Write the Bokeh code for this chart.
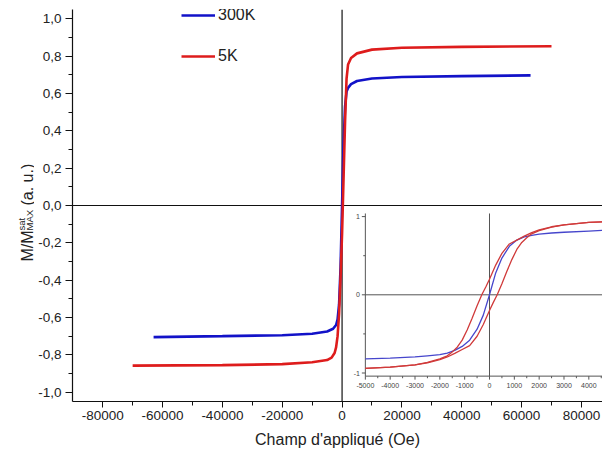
import math
from bokeh.plotting import figure
from bokeh.layouts import row
from bokeh.models import Range1d, FixedTicker, Legend, LegendItem, Span
from bokeh.core.properties import value
from bokeh.embed import file_html
from bokeh.resources import INLINE

# ---------------- data ----------------
SERIES_LABELS = ["300K", "5K"]

H_300K_MAIN = [-63000, -40000, -20000, -10000, -5000, -3000, -2000, -1500, -1000, -500, 0,
               500, 1000, 1500, 2000, 3000, 5000, 10000, 20000, 40000, 63000]
M_300K_MAIN = [-0.705, -0.70, -0.695, -0.687, -0.675, -0.66, -0.64, -0.61, -0.53, -0.33, 0.0,
               0.33, 0.53, 0.61, 0.63, 0.65, 0.667, 0.68, 0.688, 0.693, 0.697]

H_5K_MAIN = [-70000, -40000, -20000, -10000, -5000, -3500, -2500, -2000, -1500, -1000, -500, 0,
             500, 1000, 1500, 2000, 3000, 5000, 10000, 20000, 40000, 70000]
M_5K_MAIN = [-0.858, -0.855, -0.85, -0.84, -0.828, -0.815, -0.79, -0.76, -0.70, -0.58, -0.38, -0.15,
             0.15, 0.45, 0.68, 0.755, 0.79, 0.815, 0.835, 0.845, 0.85, 0.853]

H_300K_INSET = [-5000, -4000, -3000, -2500, -2000, -1700, -1400, -1100, -800, -500, -250, 0,
                250, 500, 800, 1100, 1400, 1700, 2000, 2500, 3000, 4000, 5000]
M_300K_INSET = [-0.82, -0.81, -0.795, -0.78, -0.765, -0.745, -0.71, -0.66, -0.58, -0.44, -0.26, 0.0,
                0.28, 0.47, 0.62, 0.70, 0.74, 0.76, 0.775, 0.79, 0.80, 0.815, 0.83]

# 5K loop: ascending branch (field increasing)
H_5K_INSET_UP = [-5000, -4000, -3000, -2500, -2000, -1700, -1400, -1100, -800, -500, -250, 0,
                 150, 310, 500, 700, 900, 1100, 1300, 1500, 1700, 2000, 2500, 3000, 4000, 5000]
M_5K_INSET_UP = [-0.94, -0.925, -0.895, -0.87, -0.83, -0.795, -0.75, -0.70, -0.65, -0.53, -0.38, -0.2,
                 -0.10, 0.0, 0.14, 0.30, 0.45, 0.58, 0.67, 0.73, 0.78, 0.82, 0.865, 0.895, 0.925, 0.94]
# 5K loop: descending branch (field decreasing)
H_5K_INSET_DOWN = [5000, 4000, 3000, 2500, 2000, 1700, 1400, 1100, 800, 500, 250, 0,
                   -150, -310, -500, -700, -900, -1100, -1300, -1500, -1700, -2000, -2500, -3000,
                   -4000, -5000]
M_5K_INSET_DOWN = [0.94, 0.925, 0.895, 0.87, 0.83, 0.795, 0.75, 0.70, 0.65, 0.53, 0.38, 0.2,
                   0.10, 0.0, -0.14, -0.30, -0.45, -0.58, -0.67, -0.73, -0.78, -0.82, -0.865, -0.895,
                   -0.925, -0.94]

X_TICKS = [-80000, -60000, -40000, -20000, 0, 20000, 40000, 60000, 80000]
X_TICK_LABELS = ["-80000", "-60000", "-40000", "-20000", "0", "20000", "40000", "60000", "80000"]
X_MINOR_TICKS = [-70000, -50000, -30000, -10000, 10000, 30000, 50000, 70000]

Y_TICKS = [-1.0, -0.8, -0.6, -0.4, -0.2, 0.0, 0.2, 0.4, 0.6, 0.8, 1.0]
Y_TICK_LABELS = ["-1,0", "-0,8", "-0,6", "-0,4", "-0,2", "0,0", "0,2", "0,4", "0,6", "0,8", "1,0"]
Y_MINOR_TICKS = [-0.9, -0.7, -0.5, -0.3, -0.1, 0.1, 0.3, 0.5, 0.7, 0.9]

INSET_X_TICKS = [-5000, -4000, -3000, -2000, -1000, 0, 1000, 2000, 3000, 4000, 5000]
INSET_X_TICK_LABELS = ["-5000", "-4000", "-3000", "-2000", "-1000", "0", "1000", "2000",
                       "3000", "4000", "5000"]
INSET_X_MINOR_TICKS = [-4500, -3500, -2500, -1500, -500, 500, 1500, 2500, 3500, 4500]
INSET_Y_TICKS = [-1, 0, 1]
INSET_Y_TICK_LABELS = ["-1", "0", "1"]
INSET_Y_MINOR_TICKS = [-0.5, 0.5]

X_LABEL = "Champ d'appliqué (Oe)"
Y_LABEL_MAIN = ["M/M", "(a. u.)"]
Y_LABEL_SUP = "sat"
Y_LABEL_SUB = "MAX"

# ---------------- layout constants ----------------
FONT = "Liberation Sans"
BLUE = "#1212c8"
RED = "#de1c1c"
IBLUE = "#4646cc"
IRED = "#d03a3a"
AX = "#111111"
IAX = "#555555"
TXT = "#222222"

W, H = 602, 451
LW = 34                            # width of the y-label strip
FL, FR, FT, FB = 72, 602, 9, 401   # main frame edges (picture pixels)
X0 = -90100
X1 = X0 + (FR - FL) / 0.0029919
Y0, Y1 = -1.05, 1.05
I0PX, IPX = 489, 0.02483           # inset H=0 position and px per Oe
I0PY, IPY = 294.3, 78.2            # inset M=0 position and px per unit
IX0, IX1 = (FL - I0PX) / IPX, (FR - I0PX) / IPX
IY0, IY1 = (I0PY - FB) / IPY, (I0PY - FT) / IPY

# ---------------- y-label strip (its frame is aligned with the main frame) ----------------
lab = figure(width=LW, height=H, x_range=Range1d(0, LW), y_range=Range1d(H - FB, H - FT),
             output_backend="svg", toolbar_location=None,
             x_axis_location=None, y_axis_location=None,
             min_border_left=0, min_border_right=0, min_border_top=FT, min_border_bottom=H - FB)
lab.outline_line_color = None
lab.grid.visible = False
ang = math.pi / 2
lab.text(x=[27, 27], y=[H - 261, H - 205], text=Y_LABEL_MAIN, angle=ang,
         text_font=value(FONT), text_font_size="16px", text_color=TXT,
         text_align="left", text_baseline="alphabetic")
lab.text(x=[20.5, 28.5], y=[H - 230, H - 230], text=[Y_LABEL_SUP, Y_LABEL_SUB], angle=ang,
         text_font=value(FONT), text_font_size="9.5px", text_color=TXT,
         text_align="left", text_baseline="alphabetic")

# ---------------- main plot ----------------
p = figure(width=W - LW, height=H, x_range=Range1d(X0, X1), y_range=Range1d(Y0, Y1),
           output_backend="svg", toolbar_location=None,
           min_border_left=FL - LW, min_border_right=W - FR,
           min_border_top=FT, min_border_bottom=H - FB)
p.outline_line_color = None
p.grid.visible = False
p.extra_x_ranges = {"ix": Range1d(IX0, IX1)}
p.extra_y_ranges = {"iy": Range1d(IY0, IY1)}

for ax in (p.xaxis[0], p.yaxis[0]):
    ax.axis_line_color = AX
    ax.axis_line_width = 1.2
    ax.major_tick_line_color = AX
    ax.minor_tick_line_color = AX
    ax.major_tick_in = 0
    ax.minor_tick_in = 0
    ax.major_label_text_font = FONT
    ax.major_label_text_font_size = "13.5px"
    ax.major_label_text_color = TXT

p.xaxis.ticker = FixedTicker(ticks=X_TICKS, minor_ticks=X_MINOR_TICKS)
p.xaxis.major_label_overrides = dict(zip(X_TICKS, X_TICK_LABELS))
p.xaxis.major_tick_out = 6
p.xaxis.minor_tick_out = 4
p.xaxis.major_label_standoff = 3
p.xaxis.axis_label = X_LABEL
p.xaxis.axis_label_text_font = FONT
p.xaxis.axis_label_text_font_size = "16px"
p.xaxis.axis_label_text_font_style = "normal"
p.xaxis.axis_label_text_color = TXT
p.xaxis.axis_label_standoff = 8

p.yaxis.ticker = FixedTicker(ticks=Y_TICKS, minor_ticks=Y_MINOR_TICKS)
p.yaxis.major_label_overrides = dict(zip(Y_TICKS, Y_TICK_LABELS))
p.yaxis.major_tick_out = 7
p.yaxis.minor_tick_out = 4
p.yaxis.major_label_standoff = 4

p.add_layout(Span(location=0, dimension="height", line_color=AX, line_width=1.2, level="underlay"))
p.add_layout(Span(location=0, dimension="width", line_color=AX, line_width=1.2, level="underlay"))

r300 = p.line(H_300K_MAIN, M_300K_MAIN, line_color=BLUE, line_width=2.6)
r5 = p.line(H_5K_MAIN, M_5K_MAIN, line_color=RED, line_width=2.6)

# ---------------- inset ----------------
iyb, iyt = -1.04, 1.04
ixl, ixr = -5000, 5400
kw = dict(x_range_name="ix", y_range_name="iy")
p.segment(x0=[ixl, ixl, 0, ixl], y0=[iyb, iyb, iyb, 0], x1=[ixl, ixr, 0, ixr], y1=[iyt, iyb, iyt, 0],
          line_color=IAX, line_width=1, **kw)
tx = 3.5 / IPY
p.segment(x0=INSET_X_TICKS, y0=[iyb] * len(INSET_X_TICKS), x1=INSET_X_TICKS,
          y1=[iyb - tx] * len(INSET_X_TICKS), line_color=IAX, line_width=1, **kw)
p.segment(x0=INSET_X_MINOR_TICKS, y0=[iyb] * len(INSET_X_MINOR_TICKS), x1=INSET_X_MINOR_TICKS,
          y1=[iyb - tx * 0.6] * len(INSET_X_MINOR_TICKS), line_color=IAX, line_width=1, **kw)
ty = 3.5 / IPX
p.segment(x0=[ixl] * len(INSET_Y_TICKS), y0=INSET_Y_TICKS, x1=[ixl - ty] * len(INSET_Y_TICKS),
          y1=INSET_Y_TICKS, line_color=IAX, line_width=1, **kw)
p.segment(x0=[ixl] * len(INSET_Y_MINOR_TICKS), y0=INSET_Y_MINOR_TICKS,
          x1=[ixl - ty * 0.6] * len(INSET_Y_MINOR_TICKS), y1=INSET_Y_MINOR_TICKS,
          line_color=IAX, line_width=1, **kw)
p.text(x=INSET_X_TICKS, y=[iyb - 9.5 / IPY] * len(INSET_X_TICKS), text=INSET_X_TICK_LABELS,
       text_font=value(FONT), text_font_size="7px", text_color="#444444",
       text_align="center", text_baseline="middle", **kw)
p.text(x=[ixl - 5.5 / IPX] * len(INSET_Y_TICKS), y=INSET_Y_TICKS, text=INSET_Y_TICK_LABELS,
       text_font=value(FONT), text_font_size="7px", text_color="#444444",
       text_align="right", text_baseline="middle", **kw)
p.line(H_300K_INSET, M_300K_INSET, line_color=IBLUE, line_width=1.3, **kw)
p.line(H_5K_INSET_UP, M_5K_INSET_UP, line_color=IRED, line_width=1.3, **kw)
p.line(H_5K_INSET_DOWN, M_5K_INSET_DOWN, line_color=IRED, line_width=1.3, **kw)

# ---------------- legend ----------------
legend = Legend(items=[LegendItem(label=SERIES_LABELS[0], renderers=[r300]),
                       LegendItem(label=SERIES_LABELS[1], renderers=[r5])],
                location=(109, 335), orientation="vertical",
                glyph_width=34, glyph_height=20, label_height=20, spacing=21,
                padding=0, margin=0, border_line_alpha=0, background_fill_alpha=0,
                label_text_font=FONT, label_text_font_size="16px",
                label_text_color=TXT, label_standoff=3)
p.add_layout(legend)

layout = row(lab, p, spacing=0)
open("out.html", "w").write(file_html(layout, INLINE))
